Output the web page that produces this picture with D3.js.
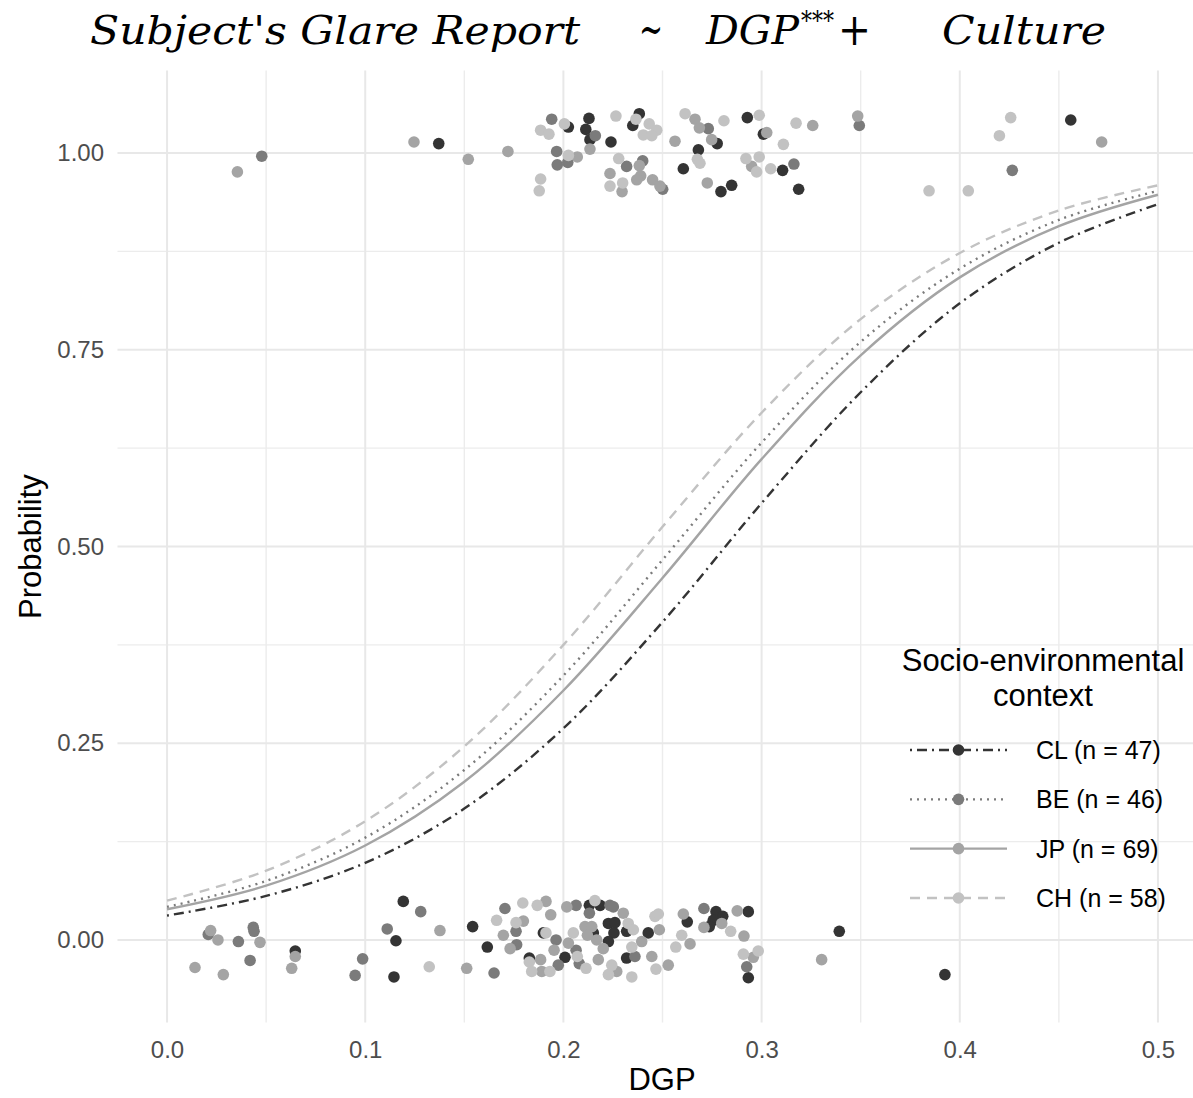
<!DOCTYPE html>
<html>
<head>
<meta charset="utf-8">
<script src="https://cdn.jsdelivr.net/npm/d3@7"></script>
<style>
  body { margin: 0; background: #fff; }
  text { font-family: "Liberation Sans", Arial, sans-serif; }
</style>
</head>
<body>
<div id="chart"></div>
<script>
// groups and legend labels
const groups = ["CL", "BE", "JP", "CH"];
const groupLabels = ["CL (n = 47)", "BE (n = 46)", "JP (n = 69)", "CH (n = 58)"];

// fitted probability curves, read at these DGP values
const curveX  = [0, 0.05, 0.1, 0.15, 0.2, 0.25, 0.3, 0.35, 0.4, 0.45, 0.5];
const curveCL = [0.031, 0.056, 0.098, 0.167, 0.269, 0.404, 0.555, 0.696, 0.809, 0.886, 0.935];
const curveBE = [0.042, 0.075, 0.130, 0.216, 0.336, 0.483, 0.632, 0.760, 0.853, 0.915, 0.952];
const curveJP = [0.039, 0.069, 0.120, 0.201, 0.317, 0.460, 0.611, 0.743, 0.842, 0.907, 0.947];
const curveCH = [0.050, 0.088, 0.151, 0.246, 0.375, 0.525, 0.670, 0.789, 0.873, 0.927, 0.959];

// jittered observations [DGP, glare report]
const pointsCL = [[0.1371,1.012],[0.2025,1.033],[0.2129,1.044],[0.2113,1.030],[0.2134,1.017],[0.224,1.014],[0.2383,1.050],[0.235,1.035],[0.2776,1.012],[0.2681,1.004],[0.2605,0.980],[0.2795,0.951],[0.2849,0.959],[0.2928,1.045],[0.3009,1.024],[0.3106,0.978],[0.3187,0.954],[0.456,1.042],
  [0.0647,-0.014],[0.1192,0.049],[0.1155,-0.001],[0.1145,-0.047],[0.1542,0.017],[0.1616,-0.009],[0.1899,0.009],[0.1828,-0.023],[0.2008,-0.022],[0.2131,0.044],[0.2185,0.044],[0.2151,0.009],[0.2227,0.021],[0.226,0.022],[0.2255,0.009],[0.2319,0.011],[0.2227,-0.002],[0.2319,-0.023],[0.2428,0.009],[0.2625,0.023],[0.277,0.036],[0.2804,0.030],[0.2756,0.025],[0.2736,0.017],[0.2933,0.036],[0.2933,-0.048],[0.3392,0.011],[0.3925,-0.044]];
const pointsBE = [[0.0478,0.996],[0.1941,1.043],[0.2161,1.022],[0.1966,1.002],[0.1969,0.985],[0.2022,0.988],[0.2319,0.983],[0.24,0.990],[0.2501,0.954],[0.2731,1.031],[0.3163,0.986],[0.3493,1.035],[0.4265,0.978],
  [0.0208,0.007],[0.036,-0.002],[0.0435,0.016],[0.0439,0.011],[0.0419,-0.026],[0.128,0.036],[0.1111,0.014],[0.0987,-0.024],[0.0949,-0.045],[0.165,-0.042],[0.1705,0.040],[0.1764,-0.006],[0.1761,0.011],[0.1963,0.000],[0.1974,-0.032],[0.2064,0.044],[0.2064,-0.013],[0.208,-0.030],[0.2131,0.034],[0.2235,0.044],[0.2252,0.042],[0.2361,-0.021],[0.2709,0.040],[0.2925,-0.034]];
const pointsJP = [[0.0355,0.976],[0.1246,1.014],[0.152,0.992],[0.172,1.002],[0.2134,1.005],[0.207,0.995],[0.2383,0.984],[0.2235,0.974],[0.239,0.971],[0.237,0.966],[0.2296,0.951],[0.245,0.966],[0.2487,0.958],[0.2563,1.015],[0.2664,1.043],[0.2686,1.032],[0.2748,1.017],[0.2726,0.962],[0.3026,1.026],[0.3258,1.035],[0.295,0.983],[0.3485,1.047],[0.4716,1.014],
  [0.022,0.012],[0.0257,0.000],[0.0469,-0.003],[0.0141,-0.035],[0.0284,-0.044],[0.0647,-0.021],[0.0629,-0.036],[0.1377,0.012],[0.1512,-0.036],[0.1697,0.006],[0.1731,-0.011],[0.1798,0.024],[0.1912,0.049],[0.1936,0.032],[0.1885,-0.025],[0.1891,-0.040],[0.1953,-0.013],[0.2017,0.042],[0.2025,-0.004],[0.2109,0.017],[0.2143,0.017],[0.2121,0.006],[0.2168,0.000],[0.2302,0.034],[0.2201,-0.011],[0.2176,-0.025],[0.2269,-0.040],[0.2395,-0.002],[0.2484,0.013],[0.2446,-0.021],[0.2529,-0.032],[0.2639,-0.005],[0.2605,0.033],[0.2709,0.016],[0.2799,0.021],[0.2877,0.037],[0.2911,0.005],[0.2958,-0.022],[0.3303,-0.025]];
const pointsCH = [[0.1885,1.029],[0.1927,1.024],[0.2005,1.037],[0.2265,1.047],[0.2366,1.043],[0.2433,1.037],[0.2471,1.029],[0.2403,1.023],[0.2446,1.022],[0.2025,0.997],[0.1885,0.967],[0.1878,0.952],[0.2279,0.993],[0.2235,0.958],[0.2299,0.962],[0.2614,1.050],[0.2676,0.992],[0.2689,0.987],[0.281,1.041],[0.2988,1.048],[0.311,1.011],[0.3174,1.038],[0.2921,0.993],[0.2975,0.976],[0.2988,0.995],[0.3046,0.980],[0.4257,1.045],[0.42,1.022],[0.3845,0.952],[0.4043,0.952],
  [0.1323,-0.034],[0.1663,0.025],[0.1761,0.022],[0.1795,0.047],[0.1868,0.044],[0.1912,0.009],[0.1828,-0.028],[0.184,-0.040],[0.1932,-0.040],[0.205,0.009],[0.207,-0.021],[0.2114,-0.036],[0.2159,0.050],[0.2327,0.021],[0.2353,0.013],[0.2244,-0.032],[0.2227,-0.044],[0.2345,-0.009],[0.2345,-0.047],[0.2462,0.030],[0.2479,0.033],[0.2467,-0.037],[0.2567,-0.009],[0.2597,0.006],[0.2844,0.011],[0.2908,-0.018],[0.2983,-0.014]];

const xTicks = [0, 0.1, 0.2, 0.3, 0.4, 0.5];
const xMinor = [0.05, 0.15, 0.25, 0.35, 0.45];
const yTicks = [0, 0.25, 0.5, 0.75, 1];
const yMinor = [0.125, 0.375, 0.625, 0.875];

const curves = {CL: curveCL, BE: curveBE, JP: curveJP, CH: curveCH};
const points = {CL: pointsCL, BE: pointsBE, JP: pointsJP, CH: pointsCH};

// look of each group
const colour = {CL: "#343434", BE: "#7b7b7b", JP: "#a4a4a4", CH: "#c2c2c2"};
const dash = {CL: "2,5,10,5", BE: "2,5", JP: null, CH: "10,7"};

const W = 1193, H = 1098;
const panel = {left: 117.5, right: 1207.5, top: 70.4, bottom: 1022.6};

const svg = d3.select("#chart").append("svg")
  .attr("width", W).attr("height", H);
svg.append("rect").attr("width", W).attr("height", H).attr("fill", "#fff");

const x = d3.scaleLinear().domain([-0.025, 0.525]).range([panel.left, panel.right]);
const y = d3.scaleLinear().domain([-0.105, 1.105]).range([panel.bottom, panel.top]);

// grid
const grid = svg.append("g");
grid.selectAll(".vmin").data(xMinor).join("line")
  .attr("x1", d => x(d)).attr("x2", d => x(d))
  .attr("y1", panel.top).attr("y2", panel.bottom)
  .attr("stroke", "#ececec").attr("stroke-width", 1.4);
grid.selectAll(".hmin").data(yMinor).join("line")
  .attr("y1", d => y(d)).attr("y2", d => y(d))
  .attr("x1", panel.left).attr("x2", panel.right)
  .attr("stroke", "#ececec").attr("stroke-width", 1.4);
grid.selectAll(".vmaj").data(xTicks).join("line")
  .attr("x1", d => x(d)).attr("x2", d => x(d))
  .attr("y1", panel.top).attr("y2", panel.bottom)
  .attr("stroke", "#e8e8e8").attr("stroke-width", 2);
grid.selectAll(".hmaj").data(yTicks).join("line")
  .attr("y1", d => y(d)).attr("y2", d => y(d))
  .attr("x1", panel.left).attr("x2", panel.right)
  .attr("stroke", "#e8e8e8").attr("stroke-width", 2);

// axes (labels only)
const xAxis = svg.append("g")
  .attr("transform", `translate(0, ${panel.bottom})`)
  .call(d3.axisBottom(x).tickValues(xTicks).tickFormat(d3.format(".1f")).tickSize(0).tickPadding(18));
const yAxis = svg.append("g")
  .attr("transform", `translate(${panel.left}, 0)`)
  .call(d3.axisLeft(y).tickValues(yTicks).tickFormat(d3.format(".2f")).tickSize(0).tickPadding(13.5));
[xAxis, yAxis].forEach(a => {
  a.select(".domain").remove();
  a.selectAll("text")
    .style("font-family", "'Liberation Sans', Arial, sans-serif")
    .style("font-size", "24px")
    .attr("fill", "#4d4d4d");
});

// points
groups.forEach(g => {
  svg.append("g").selectAll("circle")
    .data(points[g])
    .join("circle")
    .attr("cx", d => x(d[0]))
    .attr("cy", d => y(d[1]))
    .attr("r", 5.8)
    .attr("fill", colour[g]);
});

// curves
const line = d3.line()
  .x((d, i) => x(curveX[i]))
  .y(d => y(d))
  .curve(d3.curveCatmullRom);
groups.forEach(g => {
  svg.append("path")
    .attr("d", line(curves[g]))
    .attr("fill", "none")
    .attr("stroke", colour[g])
    .attr("stroke-width", 2.4)
    .attr("stroke-dasharray", dash[g]);
});

// axis titles
svg.append("text")
  .attr("x", (panel.left + panel.right) / 2 - 0.5).attr("y", 1090)
  .attr("text-anchor", "middle")
  .style("font-size", "31px").attr("fill", "#000")
  .text("DGP");
svg.append("text")
  .attr("transform", `translate(41, ${(panel.top + panel.bottom) / 2}) rotate(-90)`)
  .attr("text-anchor", "middle")
  .style("font-size", "31px").attr("fill", "#000")
  .text("Probability");

// legend
const legend = svg.append("g");
legend.append("text")
  .attr("x", 1043).attr("y", 671)
  .attr("text-anchor", "middle")
  .style("font-size", "31px")
  .text("Socio-environmental");
legend.append("text")
  .attr("x", 1043).attr("y", 706)
  .attr("text-anchor", "middle")
  .style("font-size", "31px")
  .text("context");

const rowY = d3.scalePoint().domain(groups).range([750, 898]);
const rows = legend.selectAll(".row").data(groups).join("g")
  .attr("transform", d => `translate(0, ${rowY(d)})`);
rows.append("line")
  .attr("x1", 910).attr("x2", 1007)
  .attr("stroke", d => colour[d])
  .attr("stroke-width", 2.4)
  .attr("stroke-dasharray", d => dash[d]);
rows.append("circle")
  .attr("cx", 958.5).attr("r", 5.8)
  .attr("fill", d => colour[d]);
rows.append("text")
  .attr("x", 1036)
  .attr("dy", "0.36em")
  .style("font-size", "25px")
  .text((d, i) => groupLabels[i]);

// title (math-style formula)
const titleFont = "'DejaVu Serif Condensed', 'DejaVu Serif', serif";
const titleParts = [
  {t: "Subject's Glare Report", x: 90, w: 490, italic: true, size: 40, y: 44},
  {t: "~", x: 639, w: 24, italic: false, size: 48, y: 46},
  {t: "DGP", x: 706, w: 93, italic: true, size: 40, y: 44},
  {t: "***", x: 801, w: 33, italic: false, size: 26, y: 30},
  {t: "+", x: 838, w: 33, italic: false, size: 44, y: 45},
  {t: "Culture", x: 942, w: 164, italic: true, size: 40, y: 44}
];
const title = svg.append("g");
titleParts.forEach(p => {
  title.append("text")
    .attr("x", p.x).attr("y", p.y)
    .attr("textLength", p.w)
    .attr("lengthAdjust", "spacingAndGlyphs")
    .style("font-family", titleFont)
    .style("font-style", p.italic ? "italic" : "normal")
    .style("font-size", p.size + "px")
    .attr("fill", "#000")
    .text(p.t);
});
</script>
</body>
</html>
